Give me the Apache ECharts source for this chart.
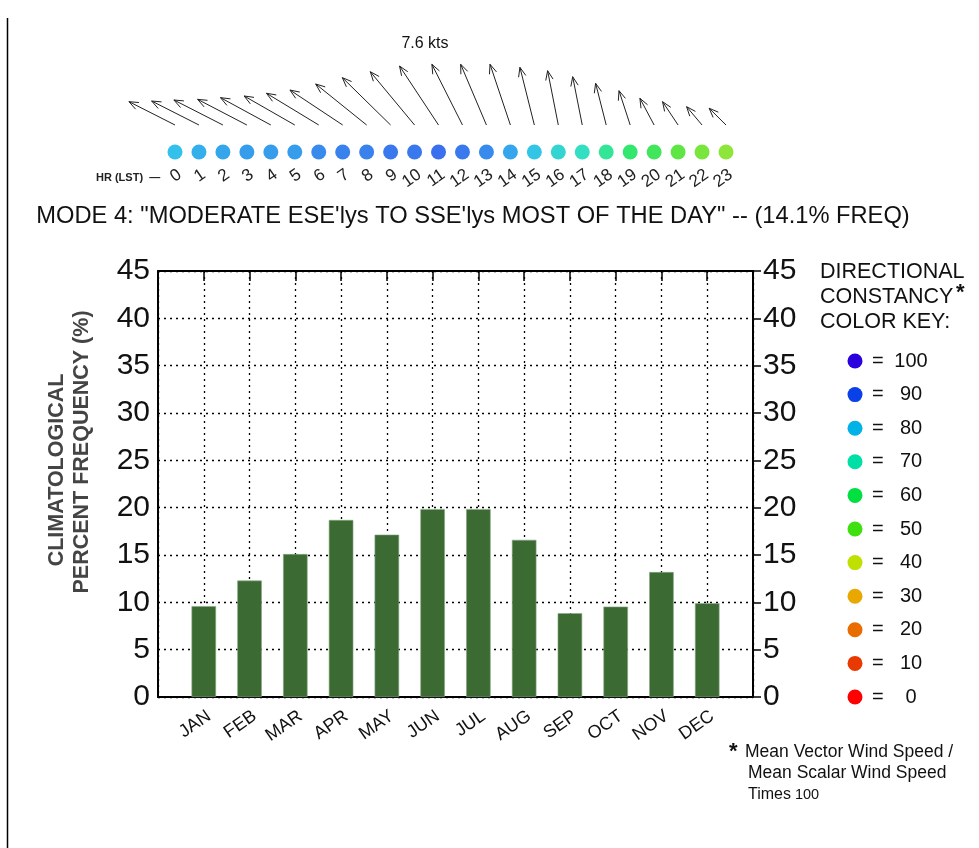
<!DOCTYPE html>
<html>
<head>
<meta charset="utf-8">
<script src="https://cdn.jsdelivr.net/npm/echarts@6/dist/echarts.min.js"></script>
<style>
  html, body { margin: 0; padding: 0; background: #fff; }
  #chart { width: 979px; height: 848px; }
</style>
</head>
<body>
<div id="chart"></div>
<script>
// Monthly climatological frequency of this wind mode (%)
const months = ['JAN', 'FEB', 'MAR', 'APR', 'MAY', 'JUN', 'JUL', 'AUG', 'SEP', 'OCT', 'NOV', 'DEC'];
const monthFreq = [9.6, 12.3, 15.1, 18.7, 17.15, 19.85, 19.85, 16.6, 8.85, 9.55, 13.2, 9.9];
const yTicks = [0, 5, 10, 15, 20, 25, 30, 35, 40, 45];

// Hourly mean vector wind (knots): u = eastward, v = northward
const hours = [0, 1, 2, 3, 4, 5, 6, 7, 8, 9, 10, 11, 12, 13, 14, 15, 16, 17, 18, 19, 20, 21, 22, 23];
const windU = [-4.95, -5.09, -5.27, -5.30, -5.41, -5.45, -5.62, -5.67, -5.48, -5.19, -4.76, -4.19,
               -3.29, -2.77, -2.19, -1.55, -1.15, -1.03, -1.14, -1.20, -1.53, -1.67, -1.66, -1.81];
const windV = [2.51, 2.58, 2.69, 2.76, 2.94, 3.12, 3.41, 3.76, 4.41, 5.09, 5.73, 6.34,
               6.53, 6.53, 6.53, 6.20, 5.84, 5.19, 4.48, 3.69, 2.87, 2.51, 1.97, 1.80];
// Directional constancy (mean vector speed / mean scalar speed x 100)
const constancy = [80, 82, 83, 84, 84, 84, 86, 87, 87, 88, 88, 89,
                   88, 86, 83, 79, 75, 72, 66, 61, 57, 51, 48, 46];

// Colour key
const keyLevels = [100, 90, 80, 70, 60, 50, 40, 30, 20, 10, 0];
const keyColors = ['#2a00de', '#0a40e8', '#00b2e6', '#00e0a6', '#00e040', '#3ee010',
                   '#bfe000', '#e8a800', '#e86c00', '#e83a00', '#ff0000'];

const FONT = '"Liberation Sans", Arial, sans-serif';
const KT_PX = 9.3; // arrow length in pixels per knot

const speeds = windU.map((u, i) => Math.hypot(u, windV[i]));
const maxSpeed = Math.max(...speeds);

const chart = echarts.init(document.getElementById('chart'));

const dotted = { color: '#000', width: 1.3, type: [2, 4] };
const axisCats = [''].concat(months, ['']);

const keyGraphics = [];
keyLevels.forEach((lv, i) => {
  const y = 361 + i * 33.6;
  keyGraphics.push({ type: 'circle', shape: { cx: 855, cy: y, r: 7.5 }, style: { fill: keyColors[i] } });
  keyGraphics.push({ type: 'text', x: 872, y: y, style: { text: '=', font: '20px ' + FONT, fill: '#111', verticalAlign: 'middle' } });
  keyGraphics.push({ type: 'text', x: 911, y: y, style: { text: String(lv), font: '20px ' + FONT, fill: '#111', align: 'center', verticalAlign: 'middle' } });
});

function renderArrow(params, api) {
  const h = api.value(0);
  const u = api.value(2), v = api.value(3);
  const p = api.coord([h, 1]);
  const hx = p[0] + u * KT_PX, hy = p[1] - v * KT_PX;
  const ang = Math.atan2(hy - p[1], hx - p[0]);
  const L = 10, a = 0.38;
  const w1 = [hx - L * Math.cos(ang - a), hy - L * Math.sin(ang - a)];
  const w2 = [hx - L * Math.cos(ang + a), hy - L * Math.sin(ang + a)];
  const st = { stroke: '#222', lineWidth: 1, fill: null };
  return {
    type: 'group',
    children: [
      { type: 'line', shape: { x1: p[0], y1: p[1], x2: hx, y2: hy }, style: st },
      { type: 'polyline', shape: { points: [w1, [hx, hy], w2] }, style: st }
    ]
  };
}

const option = {
  animation: false,
  backgroundColor: '#fff',
  grid: [
    { left: 158, right: 226, top: 271, height: 426 },
    { left: 175, right: 253, top: 125, height: 27 }
  ],
  xAxis: [
    {
      gridIndex: 0, type: 'category', data: axisCats, boundaryGap: false, position: 'bottom',
      axisLine: { onZero: false, lineStyle: { color: '#000', width: 2 } },
      axisTick: { show: false },
      axisLabel: { interval: 0, rotate: 35, margin: 10, fontSize: 18, color: '#111', fontFamily: FONT, verticalAlign: 'top' },
      splitLine: { show: true, lineStyle: dotted }
    },
    {
      gridIndex: 0, type: 'category', data: axisCats, boundaryGap: false, position: 'top',
      axisLine: { onZero: false, lineStyle: { color: '#000', width: 2 } },
      axisTick: { show: true, inside: true, length: 10, interval: 0, lineStyle: { color: '#000', width: 1.5 } },
      axisLabel: { show: false },
      splitLine: { show: false }
    },
    {
      gridIndex: 1, type: 'value', min: 0, max: 23, interval: 1, position: 'bottom',
      axisLine: { show: false, onZero: false }, axisTick: { show: false }, splitLine: { show: false },
      axisLabel: { rotate: 35, margin: 14, fontSize: 17, color: '#222', fontFamily: FONT, verticalAlign: 'top' }
    }
  ],
  yAxis: [
    {
      gridIndex: 0, type: 'value', min: 0, max: 45, interval: 5, position: 'left',
      axisLine: { show: true, onZero: false, lineStyle: { color: '#000', width: 2 } },
      axisTick: { show: false },
      axisLabel: { fontSize: 30, color: '#111', margin: 8, fontFamily: FONT,
                   formatter: v => yTicks.includes(v) ? String(v) : '' },
      splitLine: { show: true, lineStyle: dotted }
    },
    {
      gridIndex: 0, type: 'value', min: 0, max: 45, interval: 5, position: 'right',
      axisLine: { show: true, onZero: false, lineStyle: { color: '#000', width: 2 } },
      axisTick: { show: true, length: 8, lineStyle: { color: '#000', width: 1.5 } },
      axisLabel: { fontSize: 30, color: '#111', margin: 10, fontFamily: FONT },
      splitLine: { show: false }
    },
    {
      gridIndex: 1, type: 'value', min: 0, max: 1, show: false
    }
  ],
  visualMap: {
    show: false, type: 'continuous', min: 0, max: 100, dimension: 2, seriesIndex: 1,
    inRange: { color: keyColors.slice().reverse() }
  },
  series: [
    {
      type: 'bar', xAxisIndex: 0, yAxisIndex: 0,
      data: ['-'].concat(monthFreq, ['-']),
      barWidth: 24.5,
      itemStyle: { color: '#3b6b33', borderColor: '#8aa885', borderWidth: 0.6 }
    },
    {
      type: 'scatter', xAxisIndex: 2, yAxisIndex: 2,
      symbolSize: 15,
      data: hours.map((h, i) => [h, 0, constancy[i]])
    },
    {
      type: 'custom', xAxisIndex: 2, yAxisIndex: 2, clip: false,
      renderItem: renderArrow,
      data: hours.map((h, i) => [h, 1, windU[i], windV[i]])
    }
  ],
  graphic: [
    { type: 'line', shape: { x1: 7.5, y1: 18, x2: 7.5, y2: 848 }, style: { stroke: '#000', lineWidth: 1.5 } },
    { type: 'text', x: 425, y: 44, style: { text: maxSpeed.toFixed(1) + ' kts', font: '16px ' + FONT, fill: '#111', align: 'center', verticalAlign: 'middle' } },
    { type: 'text', x: 96, y: 178, style: { text: 'HR (LST)  \u2014', font: 'bold 11px ' + FONT, fill: '#222', verticalAlign: 'middle' } },
    { type: 'text', x: 473, y: 216, style: { text: 'MODE 4: "MODERATE ESE\'lys TO SSE\'lys MOST OF THE DAY" -- (14.1% FREQ)', font: '23.7px ' + FONT, fill: '#111', align: 'center', verticalAlign: 'middle' } },
    { type: 'text', x: 57, y: 470, rotation: Math.PI / 2, style: { text: 'CLIMATOLOGICAL', font: 'bold 21.5px ' + FONT, fill: '#444', align: 'center', verticalAlign: 'middle' } },
    { type: 'text', x: 82, y: 452, rotation: Math.PI / 2, style: { text: 'PERCENT FREQUENCY (%)', font: 'bold 21.5px ' + FONT, fill: '#444', align: 'center', verticalAlign: 'middle' } },
    { type: 'text', x: 820, y: 272, style: { text: 'DIRECTIONAL', font: '21.5px ' + FONT, fill: '#111', verticalAlign: 'middle' } },
    { type: 'text', x: 820, y: 297, style: { text: 'CONSTANCY', font: '21.5px ' + FONT, fill: '#111', verticalAlign: 'middle' } },
    { type: 'text', x: 956, y: 293, style: { text: '*', font: 'bold 22px ' + FONT, fill: '#111', verticalAlign: 'middle' } },
    { type: 'text', x: 820, y: 322, style: { text: 'COLOR KEY:', font: '21.5px ' + FONT, fill: '#111', verticalAlign: 'middle' } },
    { type: 'text', x: 729, y: 752, style: { text: '*', font: 'bold 22px ' + FONT, fill: '#111', verticalAlign: 'middle' } },
    { type: 'text', x: 745, y: 752, style: { text: 'Mean Vector Wind Speed /', font: '17.5px ' + FONT, fill: '#111', verticalAlign: 'middle' } },
    { type: 'text', x: 748, y: 773, style: { text: 'Mean Scalar Wind Speed', font: '17.5px ' + FONT, fill: '#111', verticalAlign: 'middle' } },
    { type: 'text', x: 748, y: 795, style: { text: '{a|Times}{b|100}', font: '16px ' + FONT, fill: '#111', verticalAlign: 'middle',
      rich: { a: { fontSize: 16, fontFamily: FONT, fill: '#111', padding: [0, 4, 0, 0] }, b: { fontSize: 14.5, fontFamily: FONT, fill: '#111' } } } }
  ].concat(keyGraphics)
};

chart.setOption(option);
</script>
</body>
</html>
